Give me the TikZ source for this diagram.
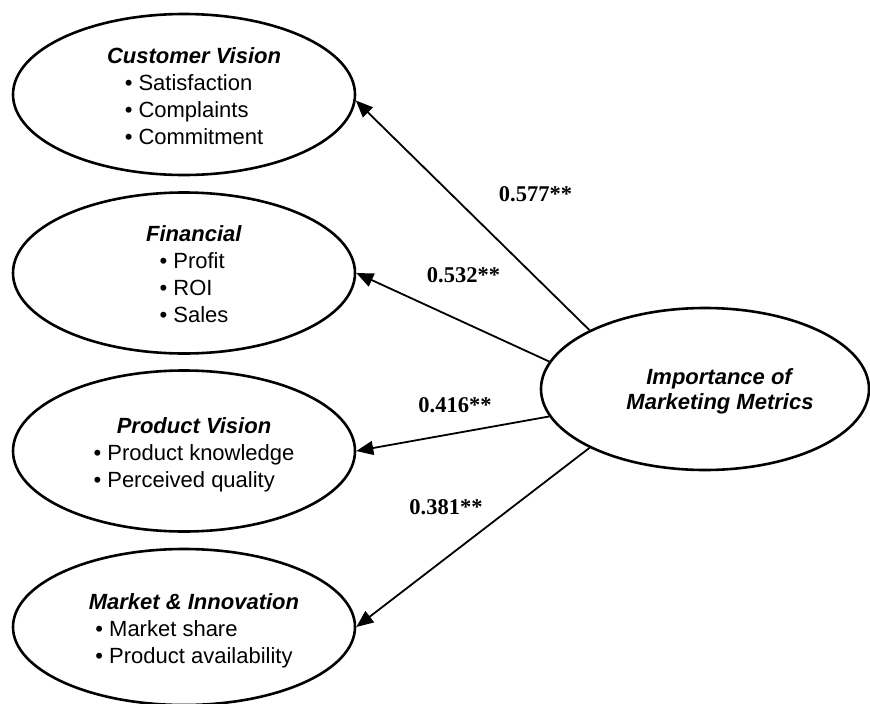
\documentclass[tikz,border=0pt]{standalone}
\usepackage{fontspec}
\setmainfont{Liberation Sans}
\newfontfamily\numfont{Liberation Serif}
\usetikzlibrary{shapes.geometric,arrows.meta}

% heading centred over a left-aligned list of indicators, set a little
% right of and below the ellipse centre
\newcommand{\indicators}[2]{\raisebox{-4pt}[\height][\depth]{\hspace*{20pt}%
  \begin{tabular}{@{}c@{}}\textbf{\textit{#1}}\\
  \begin{tabular}[t]{@{}l@{}}#2\end{tabular}\end{tabular}}}

\begin{document}
\begin{tikzpicture}[x=1pt,y=-1pt,
  construct/.style={ellipse,draw=black,line width=2.6pt,inner sep=0pt,
    minimum width=342pt,minimum height=161pt,
    font=\fontsize{22}{27}\selectfont},
  path/.style={line width=1.8pt,-{Triangle[length=17pt,width=14pt]}},
  coef/.style={font=\numfont\bfseries\fontsize{22.5}{26}\selectfont}]
  \useasboundingbox (0,0) rectangle (870,704);

  % measured constructs
  \node[construct] (cust) at (184,94.5) {\indicators{Customer Vision}
    {\textbullet\ Satisfaction\\ \textbullet\ Complaints\\ \textbullet\ Commitment}};
  \node[construct] (fin) at (184,273) {\indicators{Financial}
    {\textbullet\ Profit\\ \textbullet\ ROI\\ \textbullet\ Sales}};
  \node[construct] (prod) at (184,451) {\indicators{Product Vision}
    {\textbullet\ Product knowledge\\ \textbullet\ Perceived quality}};
  \node[construct,minimum height=156pt] (mkt) at (184,627) {\indicators{Market \& Innovation}
    {\textbullet\ Market share\\ \textbullet\ Product availability}};

  % central construct
  \node[construct,minimum width=328pt,minimum height=162pt] (imp) at (705,389)
    {\raisebox{-3pt}[\height][\depth]{\hspace*{30pt}\begin{tabular}{@{}c@{}}\textbf{\textit{Importance of}}\\[-2pt]\textbf{\textit{Marketing Metrics}}\end{tabular}}};

  % standardized paths
  \draw[path] (imp.153.6) -- (cust.-2);
  \draw[path] (imp.170) -- (fin.east);
  \draw[path] (imp.190) -- (prod.east);
  \draw[path] (imp.207) -- (mkt.east);

  % coefficients
  \node[coef] (c1) at (535.5,194.5) {0.577**};
  \node[coef] (c2) at (463.5,275.5) {0.532**};
  \node[coef] (c3) at (455,405.5) {0.416**};
  \node[coef] (c4) at (446,507) {0.381**};
\end{tikzpicture}
\end{document}
